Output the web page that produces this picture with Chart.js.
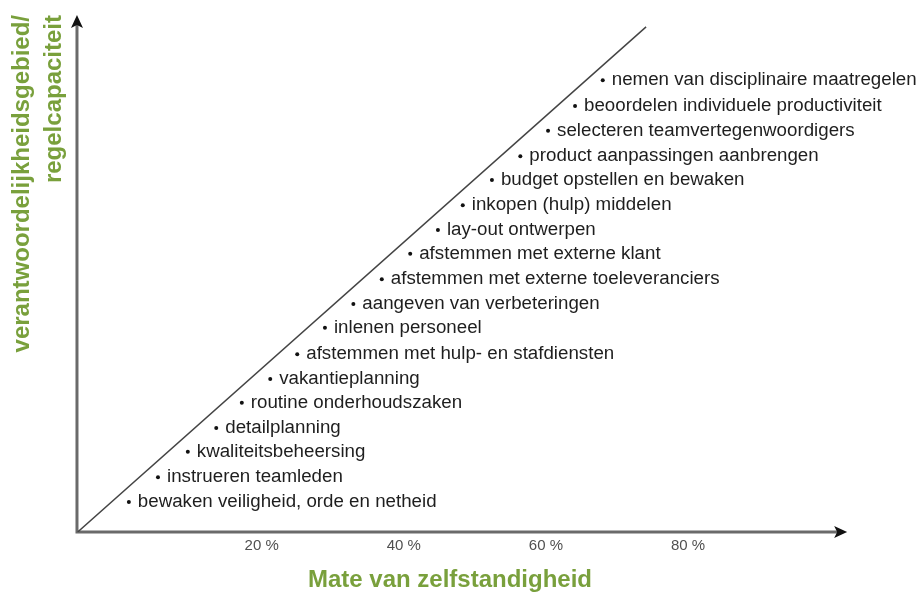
<!DOCTYPE html>
<html>
<head>
<meta charset="utf-8">
<script src="https://cdn.jsdelivr.net/npm/chart.js@4"></script>
<style>
  html, body { margin: 0; padding: 0; background: #fff; }
  #wrap { width: 922px; height: 592px; }
</style>
</head>
<body>
<div id="wrap"><canvas id="myChart"></canvas></div>
<script>
// taken
let taken = [
    "bewaken veiligheid, orde en netheid",
    "instrueren teamleden",
    "kwaliteitsbeheersing",
    "detailplanning",
    "routine onderhoudszaken",
    "vakantieplanning",
    "afstemmen met hulp- en stafdiensten",
    "inlenen personeel",
    "aangeven van verbeteringen",
    "afstemmen met externe toeleveranciers",
    "afstemmen met externe klant",
    "lay-out ontwerpen",
    "inkopen (hulp) middelen",
    "budget opstellen en bewaken",
    "product aanpassingen aanbrengen",
    "selecteren teamvertegenwoordigers",
    "beoordelen individuele productiviteit",
    "nemen van disciplinaire maatregelen"
];
// zelfstandigheid (%)
let zelfstandigheid = [1.3, 5.4, 9.6, 13.6, 17.2, 21.2, 25.0, 28.9, 32.9, 36.9, 40.9, 44.8, 48.3, 52.4, 56.4, 60.3, 64.1, 68.0];
// verantwoordelijkheid / regelcapaciteit
let regelcapaciteit = [5.8, 10.6, 15.5, 20.1, 25.0, 29.6, 34.4, 39.5, 44.1, 48.9, 53.8, 58.4, 63.2, 68.1, 72.7, 77.6, 82.4, 87.4];
// diagonaal
let diagonaalX = [-5.9, 74.1];
let diagonaalY = [0, 97.7];
let xTicks = [20, 40, 60, 80];
let xMin = -6, xMax = 99, xAxisEnd = 102.4;
let yMin = 0, yMax = 100;

const groen = "#79a03c";

let punten = [];
for (i = 0; i < taken.length; i++) {
    punten.push({x: zelfstandigheid[i], y: regelcapaciteit[i]});
}
let lijn = [];
for (i = 0; i < diagonaalX.length; i++) {
    lijn.push({x: diagonaalX[i], y: diagonaalY[i]});
}

// assen met pijlpunten + teksten naast de punten
const tekenExtra = {
    id: "tekenExtra",
    beforeDatasetsDraw(chart) {
        let ctx = chart.ctx;
        let xs = chart.scales.x, ys = chart.scales.y;
        let x0 = xs.getPixelForValue(xMin);
        let y0 = ys.getPixelForValue(yMin);
        let xEnd = xs.getPixelForValue(xAxisEnd);
        let yEnd = ys.getPixelForValue(yMax);
        ctx.save();
        ctx.strokeStyle = "#6a6a6a";
        ctx.lineWidth = 3;
        ctx.beginPath();
        ctx.moveTo(x0, yEnd + 8);
        ctx.lineTo(x0, y0);
        ctx.lineTo(xEnd - 8, y0);
        ctx.stroke();
        ctx.fillStyle = "#111";
        ctx.beginPath();
        ctx.moveTo(x0, yEnd);
        ctx.lineTo(x0 - 6, yEnd + 13);
        ctx.lineTo(x0, yEnd + 10);
        ctx.lineTo(x0 + 6, yEnd + 13);
        ctx.closePath();
        ctx.fill();
        ctx.beginPath();
        ctx.moveTo(xEnd, y0);
        ctx.lineTo(xEnd - 13, y0 - 6);
        ctx.lineTo(xEnd - 10, y0);
        ctx.lineTo(xEnd - 13, y0 + 6);
        ctx.closePath();
        ctx.fill();
        ctx.restore();
    },
    afterDatasetsDraw(chart) {
        let ctx = chart.ctx;
        let meta = chart.getDatasetMeta(1);
        ctx.save();
        ctx.fillStyle = "#1e1e1e";
        ctx.font = "18px 'Liberation Sans', Arial, sans-serif";
        ctx.textBaseline = "alphabetic";
        ctx.textAlign = "left";
        meta.data.forEach((pt, i) => {
            ctx.save();
            ctx.translate(pt.x + 9, pt.y + 5);
            ctx.scale(1.04, 1);
            ctx.fillText(taken[i], 0, 0);
            ctx.restore();
        });
        ctx.restore();
    }
};

new Chart("myChart", {
    type: "scatter",
    data: {
        datasets: [{
            type: "line",
            data: lijn,
            borderColor: "#444",
            borderWidth: 1.5,
            pointRadius: 0,
            fill: false
        }, {
            data: punten,
            pointBackgroundColor: "#111",
            pointBorderWidth: 0,
            pointRadius: 2
        }]
    },
    options: {
        responsive: true,
        maintainAspectRatio: false,
        animation: false,
        layout: { padding: { left: 0, top: 15, right: 99, bottom: 0 } },
        plugins: {
            legend: { display: false },
            tooltip: { enabled: false }
        },
        scales: {
            x: {
                type: "linear",
                min: xMin,
                max: xMax,
                afterBuildTicks: scale => { scale.ticks = xTicks.map(v => ({value: v})); },
                grid: { display: false, drawTicks: false },
                border: { display: false },
                ticks: {
                    padding: 5,
                    color: "#505050",
                    font: { size: 15, family: "'Liberation Sans', Arial, sans-serif" },
                    maxRotation: 0,
                    callback: v => v + " %"
                },
                title: {
                    display: true,
                    text: "Mate van zelfstandigheid",
                    color: groen,
                    font: { size: 24, weight: "bold", family: "'Liberation Sans', Arial, sans-serif", lineHeight: 1.2 },
                    padding: { top: 6.2, bottom: -3 }
                }
            },
            y: {
                type: "linear",
                min: yMin,
                max: yMax,
                grid: { display: false, drawTicks: false },
                border: { display: false },
                ticks: { display: false },
                title: {
                    display: true,
                    text: ["verantwoordelijkheidsgebied/", "regelcapaciteit"],
                    align: "end",
                    color: groen,
                    font: { size: 24, weight: "bold", family: "'Liberation Sans', Arial, sans-serif", lineHeight: 1.333 },
                    padding: { top: 6, bottom: 7 }
                }
            }
        }
    },
    plugins: [tekenExtra]
});
</script>
</body>
</html>
